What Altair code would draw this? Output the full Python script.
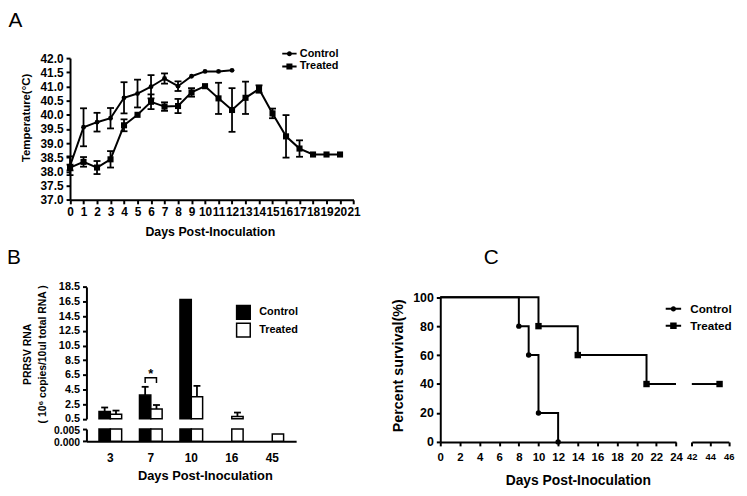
import altair as alt
import pandas as pd

FONT = "Liberation Sans"
W, H = 739, 486   # whole drawing area (origin = page offset 8,8)

# ---------------- Panel A : temperature ----------------
a_ctrl_days = [0, 1, 2, 3, 4, 5, 6, 7, 8, 9, 10, 11, 12]
a_ctrl_mean = [38.2, 39.56, 39.74, 39.88, 40.6, 40.75, 40.99, 41.28, 41.01, 41.36, 41.53, 41.53, 41.57]
a_ctrl_sem = [0.33, 0.67, 0.33, 0.36, 0.55, 0.49, 0.41, 0.18, 0.17, 0.0, 0.0, 0.0, 0.0]
a_trt_days = [0, 1, 2, 3, 4, 5, 6, 7, 8, 9, 10, 11, 12, 13, 14, 15, 16, 17, 18, 19, 20]
a_trt_mean = [38.14, 38.34, 38.14, 38.43, 39.63, 40.0, 40.46, 40.29, 40.31, 40.79, 41.01,
              40.58, 40.17, 40.6, 40.91, 40.05, 39.24, 38.81, 38.6, 38.6, 38.6]
a_trt_sem = [0.1, 0.17, 0.23, 0.29, 0.21, 0.0, 0.26, 0.15, 0.25, 0.15, 0.0,
             0.55, 0.77, 0.57, 0.13, 0.17, 0.75, 0.29, 0.0, 0.0, 0.0]
a_x_ticks = [0, 1, 2, 3, 4, 5, 6, 7, 8, 9, 10, 11, 12, 13, 14, 15, 16, 17, 18, 19, 20, 21]
a_y_ticks = [37.0, 37.5, 38.0, 38.5, 39.0, 39.5, 40.0, 40.5, 41.0, 41.5, 42.0]

groups = ["Control", "Treated"]

# ---------------- Panel B : viral RNA ----------------
b_days = ["3", "7", "10", "16", "45"]
b_ctrl_days = ["3", "7", "10"]
b_ctrl_mean = [1.5, 3.74, 16.8]
b_ctrl_err = [0.55, 1.13, 0.0]
b_trt_days = ["3", "7", "10", "16", "45"]
b_trt_mean = [1.13, 1.85, 3.52, 0.82, 0.003]
b_trt_err = [0.5, 0.54, 1.48, 0.54, 0.0]
b_upper_ticks = [0.5, 2.5, 4.5, 6.5, 8.5, 10.5, 12.5, 14.5, 16.5, 18.5]
b_lower_ticks = [0.0, 0.005]
sig_day = "7"
sig_low = 5.4
sig_high = 6.1
sig_star = 6.6

# ---------------- Panel C : survival ----------------
c_ctrl_t = [0, 8, 9, 10, 12]
c_ctrl_s = [100, 80, 60, 20, 0]
c_trt_t = [0, 10, 14, 21, 45]
c_trt_s = [100, 80, 60, 40, 40]
c_x_ticks = [0, 2, 4, 6, 8, 10, 12, 14, 16, 18, 20, 22, 24]
c_tail_ticks = [42, 44, 46]
c_y_ticks = [0, 20, 40, 60, 80, 100]

panel_letters = ["A", "B", "C"]

# legend glyphs: short line with a marker in the middle (filled shapes)
PATH_CIRC = ("M-1,-0.13H-0.3V0.13H-1Z M0.3,-0.13H1V0.13H0.3Z "
             "M0.35,0A0.35,0.35,0,1,1,-0.35,0A0.35,0.35,0,1,1,0.35,0Z")
PATH_SQ = ("M-1,-0.13H-0.4V0.13H-1Z M0.4,-0.13H1V0.13H0.4Z "
           "M-0.42,-0.42H0.42V0.42H-0.42Z")


def leg(x, y, size, fs, offset, rowpad, **kw):
    return alt.Legend(title=None, orient="none", legendX=x, legendY=y, symbolSize=size,
                      labelFontSize=fs, labelOffset=offset, rowPadding=rowpad, padding=0, **kw)


# ======================= Panel A =======================
rows = []
for d, m, s in zip(a_ctrl_days, a_ctrl_mean, a_ctrl_sem):
    rows.append({"day": d, "group": "Control", "temp": m, "sem": s, "lo": m - s, "hi": m + s})
for d, m, s in zip(a_trt_days, a_trt_mean, a_trt_sem):
    rows.append({"day": d, "group": "Treated", "temp": m, "sem": s, "lo": m - s, "hi": m + s})
dfA = pd.DataFrame(rows)

sxA = alt.Scale(domain=[0, 21], range=[62.7, 349.3], nice=False)
syA = alt.Scale(domain=[37, 42], range=[191.3, 48], nice=False, zero=False)
axA_x = alt.Axis(orient="bottom", offset=-(H - 191.3), values=a_x_ticks, format="d",
                 title="Days Post-Inoculation", labelFontSize=12, titleFontSize=12.5,
                 labelOverlap=False, labelFlush=False, titleX=204, titleY=32, titleBaseline="middle")
axA_y = alt.Axis(orient="left", offset=-62.7, values=a_y_ticks, format=".1f",
                 title="Temperature(°C)", labelFontSize=12, titleFontSize=11.5, labelOverlap=False,
                 titleX=-44, titleY=108, titleBaseline="middle")


def xa(f="day"):
    return alt.X(f"{f}:Q", scale=sxA, axis=axA_x)


def ya(f="temp"):
    return alt.Y(f"{f}:Q", scale=syA, axis=axA_y)


baseA = alt.Chart(dfA)
lineA = baseA.mark_line(color="black", strokeWidth=2).encode(x=xa(), y=ya(), detail="group:N")
errA = baseA.transform_filter("datum.sem > 0").mark_rule(color="black", strokeWidth=1.8).encode(
    x=xa(), y=ya("lo"), y2="hi:Q")
capLoA = baseA.transform_filter("datum.sem > 0").mark_tick(
    orient="horizontal", size=7, thickness=1.8, color="black", opacity=1).encode(x=xa(), y=ya("lo"))
capHiA = baseA.transform_filter("datum.sem > 0").mark_tick(
    orient="horizontal", size=7, thickness=1.8, color="black", opacity=1).encode(x=xa(), y=ya("hi"))
ptsCA = baseA.transform_filter("datum.group == 'Control'").mark_point(
    shape="circle", filled=True, size=24, color="black", opacity=1).encode(x=xa(), y=ya())
ptsTA = baseA.transform_filter("datum.group == 'Treated'").mark_point(
    shape="square", filled=True, size=38, color="black", opacity=1).encode(x=xa(), y=ya())
legA = baseA.mark_point(filled=True, color="black", opacity=0).encode(
    x=xa(), y=ya(),
    shape=alt.Shape("group:N", scale=alt.Scale(domain=groups, range=[PATH_CIRC, PATH_SQ]),
                    legend=leg(277, 36, 210, 11, 3, 0, symbolFillColor="black", symbolOpacity=1,
                               symbolStrokeWidth=0)))
A = alt.layer(lineA, errA, capLoA, capHiA, ptsCA, ptsTA, legA)

# ======================= Panel B =======================
rows = []
for d, m, e in zip(b_ctrl_days, b_ctrl_mean, b_ctrl_err):
    rows.append({"day": d, "group": "Control", "rna": m, "err": e, "hi": m + e})
for d, m, e in zip(b_trt_days, b_trt_mean, b_trt_err):
    rows.append({"day": d, "group": "Treated", "rna": m, "err": e, "hi": m + e})
dfB = pd.DataFrame(rows)

sxB = alt.Scale(domain=b_days, range=[79.3, 291.3], paddingInner=0.44, paddingOuter=0.31)
XO = alt.XOffset("group:N", scale=alt.Scale(domain=groups))
fillB = alt.Scale(domain=groups, range=["black", "white"])
syBu = alt.Scale(domain=[0.5, 18.5], range=[412.7, 279.3], nice=False, zero=False, clamp=True)
syBl = alt.Scale(domain=[0, 0.005], range=[435.3, 423], nice=False, clamp=True)
axBu_y = alt.Axis(orient="left", offset=-79.3, values=b_upper_ticks, format=".1f",
                  labelFontSize=11, labelOverlap=False,
                  title=["PRRSV RNA", "( 10⁶ copies/10ul total RNA )"], titleFontSize=10.5,
                  titleLineHeight=16, titleX=-60, titleY=347, titleBaseline="middle")
axBl_y = alt.Axis(orient="left", offset=-79.3, values=b_lower_ticks, format=".3f", title=None,
                  labelFontSize=10.5, labelOffset=1, labelOverlap=False)
axBl_x = alt.Axis(orient="bottom", offset=-(H - 435.3), title="Days Post-Inoculation", labelAngle=0,
                  ticks=False, labelPadding=12, labelFontSize=12, titleFontSize=13,
                  titleX=199, titleY=35, titleBaseline="middle")


def xbu():
    return alt.X("day:N", sort=b_days, scale=sxB, axis=None)


def ybu(f="rna"):
    return alt.Y(f"{f}:Q", scale=syBu, axis=axBu_y)


barsBu = alt.Chart(dfB).transform_filter("datum.rna > 0.5").mark_bar(
    stroke="black", strokeWidth=1.5).encode(
    x=xbu(), xOffset=XO, y=ybu(), y2=alt.datum(0),
    fill=alt.Fill("group:N", scale=fillB,
                  legend=leg(230, 297, 190, 11, 8, -2, symbolType="square", symbolStrokeColor="black",
                             symbolStrokeWidth=1.5)))
errB = alt.Chart(dfB).transform_filter("datum.err > 0").mark_rule(color="black", strokeWidth=1.8).encode(
    x=xbu(), xOffset=XO, y=ybu(), y2="hi:Q")
capB = alt.Chart(dfB).transform_filter("datum.err > 0").mark_tick(
    orient="horizontal", size=7, thickness=1.8, color="black", opacity=1).encode(
    x=xbu(), xOffset=XO, y=ybu("hi"))
dfSig = pd.DataFrame({"day": [sig_day] * 4, "group": ["Control", "Control", "Treated", "Treated"],
                      "rna": [sig_low, sig_high, sig_high, sig_low], "o": [0, 1, 2, 3]})
sigB = alt.Chart(dfSig).mark_line(color="black", strokeWidth=1.5).encode(
    x=xbu(), xOffset=XO, y=ybu(), order="o:Q")
starB = alt.Chart(pd.DataFrame({"day": [sig_day], "rna": [sig_star]})).mark_text(
    text="*", fontSize=13, font=FONT, fontWeight="bold", color="black").encode(x=xbu(), y=ybu())
B_upper = alt.layer(barsBu, errB, capB, sigB, starB)

B_lower = alt.Chart(dfB).mark_bar(stroke="black", strokeWidth=1.5).encode(
    x=alt.X("day:N", sort=b_days, scale=sxB, axis=axBl_x),
    xOffset=XO,
    y=alt.Y("rna:Q", scale=syBl, axis=axBl_y),
    y2=alt.datum(0),
    fill=alt.Fill("group:N", scale=fillB, legend=None))

# ======================= Panel C =======================
rows = []
for t, s in zip(c_ctrl_t, c_ctrl_s):
    rows.append({"t": t, "s": s, "group": "Control"})
for t, s in zip(c_trt_t, c_trt_s):
    rows.append({"t": t, "s": s, "group": "Treated"})
dfC = pd.DataFrame(rows)

sxC = alt.Scale(domain=[0, 24], range=[437, 675.3], nice=False, clamp=True)
syC = alt.Scale(domain=[0, 100], range=[436, 289.7], nice=False)
axC_x = alt.Axis(orient="bottom", offset=-(H - 436), values=c_x_ticks, format="d",
                 title="Days Post-Inoculation", labelFontSize=11.5, titleFontSize=14, labelPadding=6,
                 labelOverlap=False, labelFlush=False, titleX=576, titleY=39, titleBaseline="middle")
axC_y = alt.Axis(orient="left", offset=-437, values=c_y_ticks, format="d", title="Percent survival(%)",
                 labelFontSize=12.5, titleFontSize=14.5, titleX=-42, titleY=358.5, titleBaseline="middle")


def xc():
    return alt.X("t:Q", scale=sxC, axis=axC_x)


def yc():
    return alt.Y("s:Q", scale=syC, axis=axC_y)


baseC = alt.Chart(dfC)
lineC = baseC.mark_line(color="black", strokeWidth=2, interpolate="step-after").encode(
    x=xc(), y=yc(), detail="group:N")
ptsCC = baseC.transform_filter("datum.group == 'Control' && datum.t > 0 && datum.t <= 24").mark_point(
    shape="circle", filled=True, size=30, color="black", opacity=1).encode(x=xc(), y=yc())
ptsTC = baseC.transform_filter("datum.group == 'Treated' && datum.t > 0 && datum.t <= 24").mark_point(
    shape="square", filled=True, size=42, color="black", opacity=1).encode(x=xc(), y=yc())
legC = baseC.mark_point(filled=True, color="black", opacity=0).encode(
    x=xc(), y=yc(),
    shape=alt.Shape("group:N", scale=alt.Scale(domain=groups, range=[PATH_CIRC, PATH_SQ]),
                    legend=leg(664.7, 293.5, 243, 11.8, 9, 2, symbolFillColor="black",
                               symbolOpacity=1, symbolStrokeWidth=0)))
C_main = alt.layer(lineC, ptsCC, ptsTC, legC)

sxCt = alt.Scale(domain=[42, 46], range=[691.3, 728.7], nice=False, clamp=True)
axCt_x = alt.Axis(orient="bottom", offset=-(H - 436), values=c_tail_ticks, format="d", title=None,
                  labelFontSize=9.5, labelPadding=6, labelOverlap=False, labelFlush=False)


def xct():
    return alt.X("t:Q", scale=sxCt, axis=axCt_x)


def yct():
    return alt.Y("s:Q", scale=syC, axis=None)


lineCt = baseC.transform_filter("datum.group == 'Treated' && datum.t >= 21").mark_line(
    color="black", strokeWidth=2, interpolate="step-after").encode(x=xct(), y=yct())
ptsTCt = baseC.transform_filter("datum.group == 'Treated' && datum.t >= 42").mark_point(
    shape="square", filled=True, size=42, color="black", opacity=1).encode(x=xct(), y=yct())
C_tail = alt.layer(lineCt, ptsTCt)

# ======================= panel letters =======================
dfL = pd.DataFrame({"letter": panel_letters})


def letter(ch, x, y):
    return alt.Chart(dfL).transform_filter(f"datum.letter == '{ch}'").mark_text(
        fontSize=21, font=FONT, align="left", baseline="alphabetic", color="black").encode(
        text="letter:N", x=alt.value(x), y=alt.value(y))


chart = alt.layer(A, B_upper, B_lower, C_main, C_tail,
                  letter("A", 0.5, 17), letter("B", -1, 256), letter("C", 481, 256)).resolve_scale(
    x="independent", y="independent", shape="independent", fill="independent"
).resolve_axis(x="independent", y="independent").properties(
    width=W, height=H, autosize=alt.AutoSizeParams(type="none"), padding=0
).configure(font=FONT).configure_view(stroke=None).configure_axis(
    domainColor="black", domainWidth=2, tickColor="black", tickWidth=2, tickSize=4,
    labelColor="black", labelFont=FONT, labelFontWeight="bold", labelPadding=3,
    titleFont=FONT, titleFontWeight="bold", titleColor="black", grid=False
).configure_legend(labelFont=FONT, labelFontWeight="bold", labelColor="black")

chart.save("out.html", embed_options={"renderer": "svg", "actions": False})
